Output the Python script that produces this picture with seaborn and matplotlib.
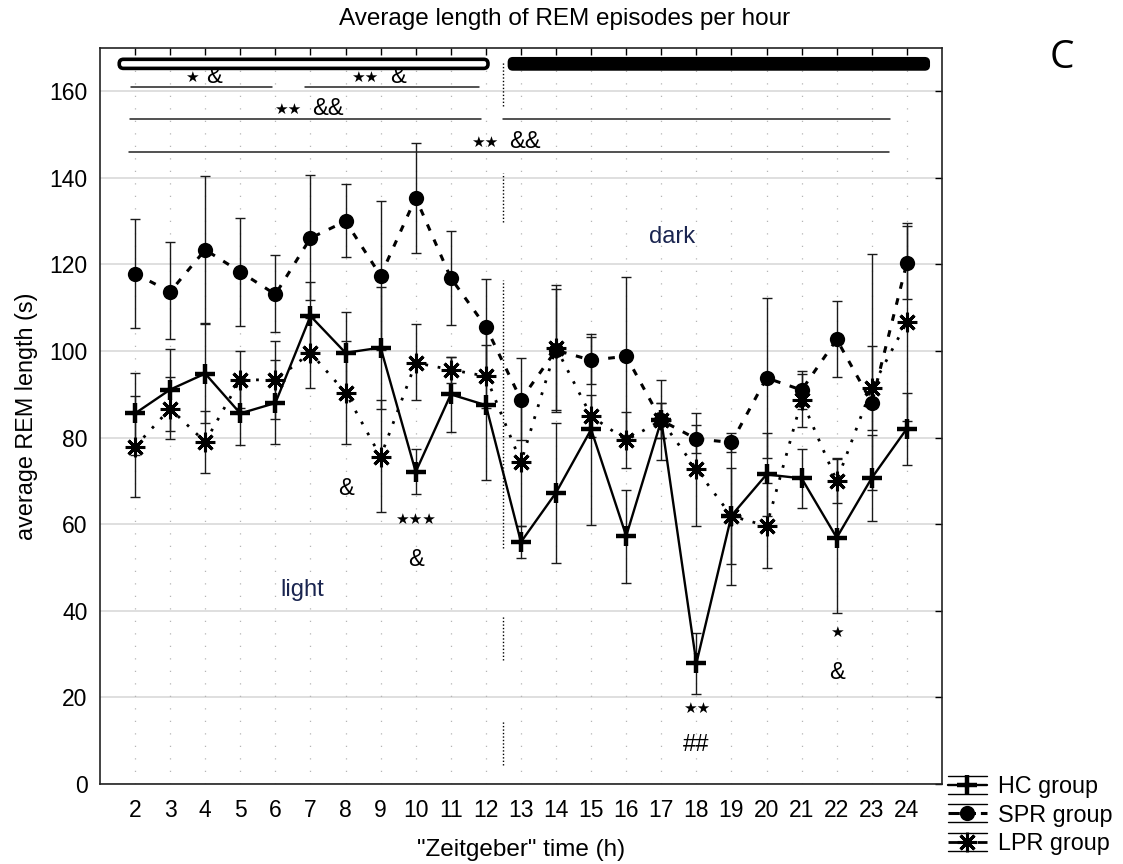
import matplotlib
matplotlib.use("Agg")
import matplotlib.pyplot as plt
from matplotlib.lines import Line2D
from matplotlib.patches import FancyBboxPatch
from matplotlib.legend_handler import HandlerBase
import numpy as np
import pandas as pd
import seaborn as sns

# Zeitgeber hours
hours = list(range(2, 25))

# HC group: mean, upper and lower whisker ends
hc_mean = [85.6, 91.1, 94.8, 85.6, 88.0, 108.1, 99.6, 100.8, 72.1, 90.0, 87.5, 55.9,
           67.3, 81.9, 57.3, 84.0, 27.9, 62.0, 71.5, 70.6, 56.9, 70.7, 82.1]
hc_high = [94.9, 100.4, 106.3, 92.9, 97.9, 116.0, 109.1, 114.9, 77.3, 98.7, 105.0, 59.5,
           83.4, 103.3, 67.9, 88.0, 34.9, 78.0, 81.0, 77.3, 75.0, 80.7, 90.4]
hc_low = [76.0, 81.6, 83.3, 78.3, 78.5, 100.1, 90.1, 86.7, 67.1, 81.3, 70.2, 52.3,
          51.1, 59.8, 46.5, 80.0, 20.9, 45.9, 62.0, 63.8, 39.4, 60.8, 73.7]

# SPR group
spr_mean = [117.9, 113.7, 123.4, 118.3, 113.1, 126.1, 130.0, 117.4, 135.4, 116.9, 105.6, 88.8,
            100.2, 97.9, 98.8, 84.0, 79.7, 78.9, 93.8, 91.0, 102.7, 88.1, 120.4]
spr_high = [130.4, 125.2, 140.5, 130.7, 122.3, 140.6, 138.5, 134.6, 148.0, 127.7, 116.6, 98.3,
            114.4, 103.9, 117.1, 93.4, 83.0, 81.1, 112.3, 95.4, 111.5, 122.4, 128.8]
spr_low = [105.4, 102.7, 106.5, 105.7, 104.3, 111.9, 121.8, 100.2, 122.7, 106.0, 94.6, 79.4,
           86.0, 92.5, 80.5, 74.8, 76.4, 76.7, 75.3, 86.6, 94.0, 67.9, 112.0]

# LPR group
lpr_mean = [77.9, 86.7, 79.0, 93.4, 93.3, 99.6, 90.4, 75.6, 97.3, 95.7, 94.2, 74.3,
            100.8, 85.0, 79.4, 84.0, 72.7, 61.9, 59.6, 88.7, 70.0, 91.5, 106.7]
lpr_high = [89.6, 94.0, 86.2, 100.0, 102.3, 107.7, 102.3, 88.6, 106.2, 98.7, 101.5, 89.2,
            115.2, 89.8, 85.9, 88.0, 85.7, 72.9, 69.6, 94.7, 75.2, 101.2, 129.6]
lpr_low = [66.2, 79.6, 71.9, 86.8, 84.3, 91.5, 78.5, 62.9, 88.8, 92.7, 86.9, 59.6,
           86.4, 80.2, 72.9, 80.0, 59.6, 50.9, 50.0, 82.4, 64.8, 81.8, 83.8]

group_names = ["HC group", "SPR group", "LPR group"]

# significance bars spanning several hours: (x start, x end, y)
sig_lines = [
    (1.89, 5.90, 161.0),
    (6.84, 11.80, 161.0),
    (1.86, 11.85, 153.7),
    (12.48, 23.53, 153.5),
    (1.83, 23.50, 146.0),
]
# labels above those bars: (star x, stars, ampersand x, ampersands, y)
sig_labels = [
    (3.62, "★", 4.25, "&", 163.3),
    (8.55, "★★", 9.49, "&", 163.3),
    (6.36, "★★", 7.50, "&&", 156.0),
    (11.97, "★★", 13.11, "&&", 148.3),
]

# per-hour significance marks: (x, y, text, is_star)
point_marks = [
    (8, 68.1, "&", False),
    (10, 61.0, "★★★", True),
    (10, 51.7, "&", False),
    (18, 17.5, "★★", True),
    (18, 9.0, "##", False),
    (22, 34.9, "★", True),
    (22, 25.6, "&", False),
]

sns.set_theme(style="white")
plt.rcParams["font.family"] = ["Liberation Sans", "DejaVu Sans"]
plt.rcParams["text.color"] = "black"
plt.rcParams["axes.labelcolor"] = "black"

fig = plt.figure(figsize=(11.23, 8.64), dpi=100)
ax = fig.add_axes([0.089, 0.0926, 0.7498, 0.8518])

frames = []
for name, m, hi, lo in [("HC group", hc_mean, hc_high, hc_low),
                        ("SPR group", spr_mean, spr_high, spr_low),
                        ("LPR group", lpr_mean, lpr_high, lpr_low)]:
    frames.append(pd.DataFrame({"hour": hours, "value": m, "high": hi, "low": lo, "group": name}))
df = pd.concat(frames, ignore_index=True)

styles = {
    "HC group": dict(linestyle="-", linewidth=1.7, marker="+", markersize=15, markeredgewidth=3.2),
    "SPR group": dict(linestyle=(0, (2.2, 3.2)), linewidth=2.2, marker="o", markersize=11,
                      markeredgewidth=0),
    "LPR group": dict(linestyle=(0, (1.0, 3.5)), linewidth=2.0, marker=(8, 2, 0), markersize=14,
                      markeredgewidth=2.2),
}

# grid
for yv in range(0, 171, 20):
    ax.axhline(yv, color="#d9d9d9", lw=1.2, zorder=0)
for xv in hours:
    ax.axvline(xv, color="#b5b5b5", lw=0.9, ls=(0, (1, 9)), zorder=0)

# error whiskers
for name in group_names:
    d = df[df["group"] == name]
    ax.errorbar(d["hour"], d["value"],
                yerr=[d["value"] - d["low"], d["high"] - d["value"]],
                fmt="none", ecolor="#1a1a1a", elinewidth=1.0, capsize=3.5, capthick=1.0,
                zorder=2)

# group means
for name in group_names:
    d = df[df["group"] == name]
    sns.lineplot(data=d, x="hour", y="value", ax=ax, color="black",
                 markeredgecolor="black", markerfacecolor="black", zorder=3,
                 legend=False, **styles[name])

# light / dark boundary
ax.vlines([12.5] * 5, [156.5, 129.8, 54.5, 28.6, 4.4], [167.0, 141.1, 116.4, 39.0, 14.8],
          colors="black", linestyles=(0, (1, 1.5)), lw=1.0, zorder=1)

# light / dark bars on top
ax.add_patch(FancyBboxPatch((1.55, 165.3), 12.06 - 1.55, 2.1,
                            boxstyle="round,pad=0,rounding_size=0.12",
                            fc="white", ec="black", lw=2.6, zorder=5, clip_on=False,
                            mutation_aspect=8))
ax.add_patch(FancyBboxPatch((12.65, 165.0), 24.63 - 12.65, 2.7,
                            boxstyle="round,pad=0,rounding_size=0.12",
                            fc="black", ec="black", lw=1.5, zorder=5, clip_on=False,
                            mutation_aspect=8))

for x0, x1, yv in sig_lines:
    ax.plot([x0, x1], [yv, yv], color="#222222", lw=1.1, zorder=4)
for xs, stars, xa, amps, yv in sig_labels:
    ax.text(xs, yv - 0.2, stars, ha="center", va="center", fontsize=11,
            family="DejaVu Sans", color="black")
    ax.text(xa, yv, amps, ha="center", va="center", fontsize=17, color="black")

for xv, yv, label, is_star in point_marks:
    if is_star:
        ax.text(xv, yv, label, ha="center", va="center", fontsize=11,
                family="DejaVu Sans", color="black")
    else:
        ax.text(xv, yv, label, ha="center", va="center", fontsize=17, color="black")

ax.text(6.76, 44.8, "light", ha="center", va="center", fontsize=17, color="#1a2550")
ax.text(17.3, 126.3, "dark", ha="center", va="center", fontsize=17, color="#1a2550")

ax.set_xlim(1, 25)
ax.set_ylim(0, 170)
ax.set_xticks(hours)
ax.set_yticks(range(0, 161, 20))
ax.tick_params(axis="both", direction="in", length=5, width=1, colors="black",
               labelsize=16.5, top=True, right=True, labeltop=False, labelright=False, pad=9)
ax.tick_params(axis="x", pad=11)
for s in ax.spines.values():
    s.set_color("#222222")
    s.set_linewidth(1.2)

ax.set_xlabel('"Zeitgeber" time (h)', fontsize=17.5, labelpad=12)
ax.set_ylabel("average REM length (s)", fontsize=16.8, labelpad=8)
fig.text(0.503, 0.978, "Average length of REM episodes per hour", ha="center", va="center",
         fontsize=17.5)
fig.text(0.946, 0.933, "C", ha="center", va="center", fontsize=28, family="Open Sans",
         color="black")


class WhiskerHandler(HandlerBase):
    def create_artists(self, legend, orig_handle, xdescent, ydescent, width, height,
                       fontsize, trans):
        yc = height / 2 - ydescent
        dy = height * 0.55
        x0, x1 = -xdescent, width - xdescent
        arts = []
        for yy in (yc + dy, yc - dy):
            arts.append(Line2D([x0, x1], [yy, yy], color="black", lw=1.0, transform=trans))
        arts.append(Line2D([x0, x1], [yc, yc], color="black", lw=orig_handle.get_linewidth(),
                           ls=orig_handle.get_linestyle(), transform=trans))
        arts.append(Line2D([(x0 + x1) / 2], [yc], color="black", marker=orig_handle.get_marker(),
                           markersize=orig_handle.get_markersize(),
                           markeredgewidth=orig_handle.get_markeredgewidth(),
                           markerfacecolor="black", markeredgecolor="black", ls="none",
                           transform=trans))
        return arts


handles = [Line2D([], [], color="black", **styles[n]) for n in group_names]
fig.legend(handles, group_names, loc="upper left", bbox_to_anchor=(0.844, 0.103),
           frameon=False, fontsize=16.8, handlelength=1.67, handletextpad=0.47,
           labelspacing=0.24, borderaxespad=0, borderpad=0,
           handler_map={Line2D: WhiskerHandler()})

fig.savefig("out.png", dpi=100)
